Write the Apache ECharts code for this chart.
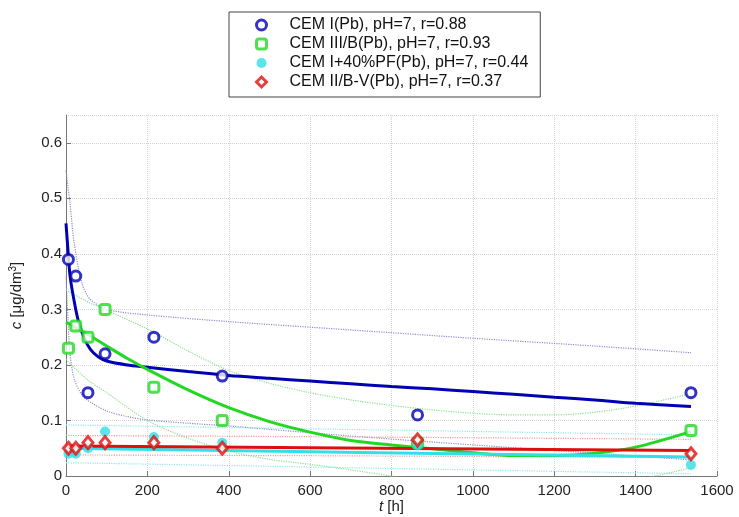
<!DOCTYPE html>
<html>
<head>
<meta charset="utf-8">
<script src="https://cdn.jsdelivr.net/npm/echarts@6/dist/echarts.min.js"></script>
<style>
  html, body { margin: 0; padding: 0; background: #fff; }
  #main { width: 739px; height: 517px; }
</style>
</head>
<body>
<div id="main"></div>
<script>
// measured points (t in hours)
const times = [6, 24, 54, 96, 216, 384, 864, 1536];
const cemI = [0.39, 0.36, 0.15, 0.22, 0.25, 0.18, 0.11, 0.15];
const cemIII = [0.23, 0.27, 0.25, 0.30, 0.16, 0.10, 0.06, 0.082];
const cemPF = [0.04, 0.04, 0.05, 0.08, 0.07, 0.06, 0.055, 0.02];
const cemII = [0.05, 0.05, 0.06, 0.06, 0.06, 0.05, 0.065, 0.04];

const names = [
  'CEM I(Pb), pH=7, r=0.88',
  'CEM III/B(Pb), pH=7, r=0.93',
  'CEM I+40%PF(Pb), pH=7, r=0.44',
  'CEM II/B-V(Pb), pH=7, r=0.37'
];

// fitted curves
const fitT = [0, 5, 10, 20, 30, 45, 60, 80, 100, 150, 200, 300, 400, 500, 600, 700, 800, 900, 1000, 1100, 1200, 1300, 1400, 1536];
const fitI = [0.455, 0.405, 0.36, 0.315, 0.28, 0.248, 0.228, 0.214, 0.207, 0.200, 0.196, 0.188, 0.181, 0.176, 0.171, 0.166, 0.161, 0.157, 0.152, 0.147, 0.142, 0.137, 0.131, 0.125];
const fitIII = [0.277, 0.275, 0.273, 0.269, 0.265, 0.259, 0.252, 0.243, 0.234, 0.212, 0.192, 0.155, 0.123, 0.098, 0.079, 0.064, 0.056, 0.049, 0.042, 0.037, 0.037, 0.041, 0.052, 0.080];

const upIT = [0, 5, 10, 20, 40, 60, 100, 200, 400, 700, 1000, 1300, 1536];
const upI = [0.55, 0.52, 0.49, 0.42, 0.345, 0.318, 0.300, 0.290, 0.278, 0.263, 0.248, 0.234, 0.222];
const loIT = [0, 5, 10, 20, 40, 60, 100, 150, 200, 300, 400, 700, 1000, 1300, 1536];
const loI = [0.36, 0.28, 0.22, 0.175, 0.145, 0.133, 0.117, 0.107, 0.101, 0.095, 0.09, 0.072, 0.056, 0.041, 0.029];

const bandIIIT = [0, 50, 100, 200, 300, 400, 500, 600, 700, 800, 900, 1000, 1100, 1200, 1300, 1400, 1536];
const upIII = [0.335, 0.315, 0.298, 0.265, 0.225, 0.19, 0.167, 0.150, 0.137, 0.127, 0.119, 0.113, 0.110, 0.110, 0.115, 0.126, 0.148];
const loIII = [0.21, 0.175, 0.15, 0.10, 0.068, 0.045, 0.03, 0.021, 0.011, 0.0, -0.01, -0.018, -0.023, -0.025, -0.02, -0.008, 0.015];

const lineT = [0, 768, 1536];
const fitPF = [0.050, 0.042, 0.034];
const upPF = [0.092, 0.083, 0.074];
const loPF = [0.024, 0.014, 0.004];
const fitII = [0.054, 0.050, 0.046];
const upII = [0.073, 0.070, 0.066];
const loII = [0.038, 0.036, 0.033];

const colors = ['#0000b4', '#22d822', '#30e0e6', '#dd1010'];
const dotColors = ['#8c8cd0', '#8ce08c', '#8ce8ee', '#ee9a9a'];

const pairs = (xs, ys) => xs.map((x, i) => [x, ys[i]]);

const myChart = echarts.init(document.getElementById('main'));

function fitLine(xs, ys, c, w) {
  return {
    type: 'line', data: pairs(xs, ys), showSymbol: false, smooth: 0.3,
    lineStyle: { color: c, width: w }, silent: true, z: 3
  };
}
function dotLine(xs, ys, c) {
  return {
    type: 'line', data: pairs(xs, ys), showSymbol: false, smooth: 0.3,
    lineStyle: { color: c, width: 1.2, type: 'dotted' }, silent: true, z: 2
  };
}

const markStyles = [
  { color: '#fff', borderColor: colors[0], borderWidth: 3 },
  { color: '#fff', borderColor: colors[1], borderWidth: 3 },
  { color: colors[2], borderWidth: 0 },
  { color: '#fff', borderColor: colors[3], borderWidth: 3 }
];

const series = [
  dotLine(upIT, upI, dotColors[0]),
  dotLine(loIT, loI, dotColors[0]),
  dotLine(bandIIIT, upIII, dotColors[1]),
  dotLine(bandIIIT, loIII, dotColors[1]),
  dotLine(lineT, upPF, dotColors[2]),
  dotLine(lineT, loPF, dotColors[2]),
  dotLine(lineT, upII, dotColors[3]),
  dotLine(lineT, loII, dotColors[3]),
  fitLine(fitT, fitI, colors[0], 3),
  fitLine(fitT, fitIII, colors[1], 3),
  fitLine(lineT, fitPF, colors[2], 3),
  fitLine(lineT, fitII, colors[3], 3),
  { name: names[0], type: 'scatter', data: pairs(times, cemI), symbol: 'circle', symbolSize: 10, itemStyle: markStyles[0], z: 5 },
  { name: names[1], type: 'scatter', data: pairs(times, cemIII), symbol: 'roundRect', symbolSize: 10, itemStyle: markStyles[1], z: 5 },
  { name: names[2], type: 'scatter', data: pairs(times, cemPF), symbol: 'circle', symbolSize: 10, itemStyle: markStyles[2], z: 5 },
  { name: names[3], type: 'scatter', data: pairs(times, cemII), symbol: 'diamond', symbolSize: [10, 12], itemStyle: markStyles[3], z: 5 }
];

myChart.setOption({
  animation: false,
  textStyle: { fontFamily: 'Liberation Sans, Arial, sans-serif' },
  grid: { left: 66, right: 22, top: 115, bottom: 41, containLabel: false, outerBoundsMode: 'none' },
  legend: {
    data: names.map((n, i) => ({ name: n, itemStyle: markStyles[i] })),
    orient: 'vertical',
    left: 229, top: 12,
    padding: [5, 12, 7, 26],
    itemWidth: 10, itemHeight: 10, itemGap: 3,
    borderColor: '#444', borderWidth: 1,
    textStyle: { fontSize: 16, color: '#111', padding: [0, 0, 0, 18] }
  },
  xAxis: {
    type: 'value', min: 0, max: 1600, interval: 200,
    name: '{i|t} [h]', nameLocation: 'middle', nameGap: 23, nameMoveOverlap: false,
    nameTextStyle: { fontSize: 15, color: '#222', rich: { i: { fontStyle: 'italic', fontSize: 15 } } },
    axisLine: { lineStyle: { color: '#777' } },
    axisTick: { inside: true, length: 5, lineStyle: { color: '#777' } },
    axisLabel: { fontSize: 15, color: '#222', margin: 7, formatter: v => String(v) },
    splitLine: { show: true, lineStyle: { color: '#d4d4d4', type: 'dotted' } }
  },
  yAxis: {
    type: 'value', min: 0, max: 0.65, interval: 0.1,
    name: '{i|c} [μg/dm{s|3}]', nameLocation: 'middle', nameGap: 40,
    nameTextStyle: { fontSize: 15, color: '#222',
      rich: { i: { fontStyle: 'italic', fontSize: 15 }, s: { fontSize: 10, verticalAlign: 'top', padding: [0, 0, 8, 0] } } },
    axisLine: { show: true, lineStyle: { color: '#777' } },
    axisTick: { show: true, inside: true, length: 5, lineStyle: { color: '#777' } },
    axisLabel: { fontSize: 15, color: '#222', margin: 4, showMaxLabel: false,
      formatter: v => (v > 0.61 ? '' : (v === 0 ? '0' : v.toFixed(1))) },
    splitLine: { show: true, lineStyle: { color: '#d4d4d4', type: 'dotted' } }
  },
  series: series
});
</script>
</body>
</html>
